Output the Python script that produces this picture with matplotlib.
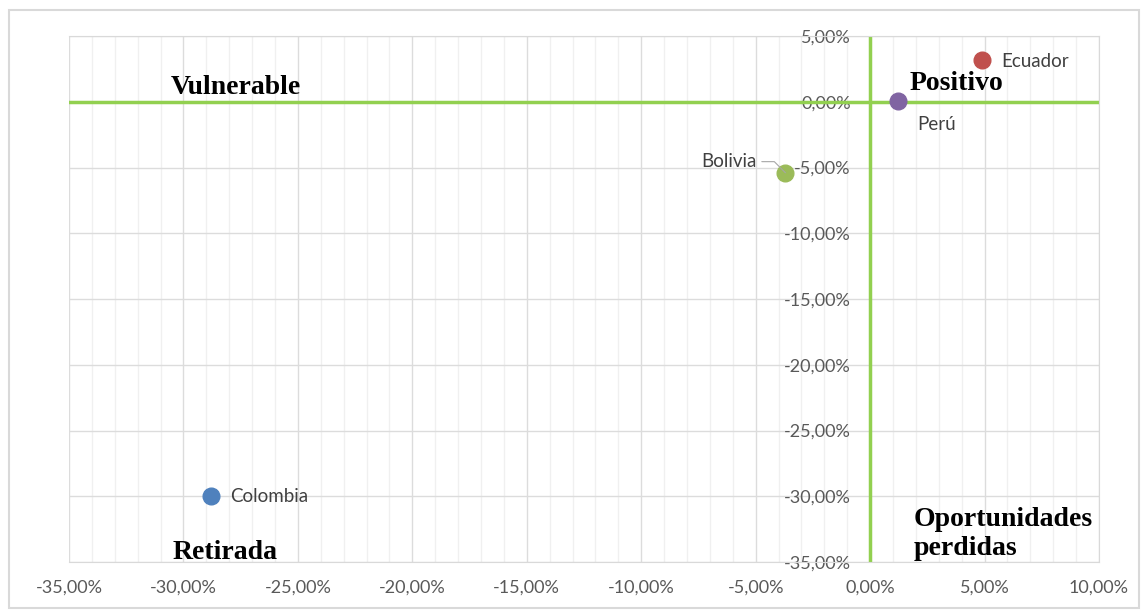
import matplotlib.pyplot as plt
from matplotlib.ticker import MultipleLocator, FuncFormatter
from matplotlib.patches import Rectangle

# Data (percent values)
countries = ['Colombia', 'Ecuador', 'Bolivia', 'Perú']
x_vals = [-28.8, 4.9, -3.7, 1.2]
y_vals = [-30.0, 3.2, -5.4, 0.05]
colors = ['#4F81BD', '#C0504D', '#9BBB59', '#8064A2']

quadrant_labels = ['Vulnerable', 'Positivo', 'Retirada', 'Oportunidades\nperdidas']

fig = plt.figure(figsize=(11.42, 6.10), dpi=100)
ax = fig.add_axes([69 / 1142, 1 - 562 / 610, 1030 / 1142, 526 / 610])

# outer chart border
fig.patches.append(Rectangle((9 / 1142, 2 / 610), 1130 / 1142, 598 / 610,
                             transform=fig.transFigure, fill=False,
                             edgecolor='#D9D9D9', linewidth=1.5))

ax.set_xlim(-35, 10)
ax.set_ylim(-35, 5)

pct = FuncFormatter(lambda v, p: f'{v:.2f}%'.replace('.', ','))
ax.xaxis.set_major_locator(MultipleLocator(5))
ax.xaxis.set_minor_locator(MultipleLocator(1))
ax.yaxis.set_major_locator(MultipleLocator(5))
ax.xaxis.set_major_formatter(pct)
ax.yaxis.set_major_formatter(pct)

ax.grid(True, which='major', color='#DCDCDC', linewidth=1)
ax.grid(True, which='minor', axis='x', color='#F0F0F0', linewidth=1)
ax.set_axisbelow(True)

for s in ax.spines.values():
    s.set_color('#D9D9D9')
ax.spines['left'].set_position(('data', 0))
ax.spines['left'].set_visible(False)

ax.tick_params(axis='both', which='both', length=0, labelcolor='#595959', labelsize=13)
ax.tick_params(axis='x', pad=13)
ax.tick_params(axis='y', pad=14)
for lab in ax.get_xticklabels() + ax.get_yticklabels():
    lab.set_fontfamily('Lato')

# quadrant lines
ax.axhline(0, color='#92D050', linewidth=2.5, zorder=2)
ax.axvline(0, color='#92D050', linewidth=2.5, zorder=2)

# points
for cx, cy, col in zip(x_vals, y_vals, colors):
    ax.plot(cx, cy, 'o', color=col, markersize=12, zorder=4)

lab_kw = dict(fontsize=13.5, color='#404040', family='Lato', zorder=5)
ax.annotate(countries[0], (x_vals[0], y_vals[0]), xytext=(14, 0), textcoords='offset points',
            va='center', ha='left', **lab_kw)
ax.annotate(countries[1], (x_vals[1], y_vals[1]), xytext=(14, -1), textcoords='offset points',
            va='center', ha='left', **lab_kw)
ax.annotate(countries[2], (x_vals[2], y_vals[2]), xytext=(-21, 8), textcoords='offset points',
            va='center', ha='right',
            arrowprops=dict(arrowstyle='-', color='#A6A6A6', lw=0.8, shrinkA=2, shrinkB=0,
                            connectionstyle='angle,angleA=0,angleB=135,rad=0'), **lab_kw)
ax.annotate(countries[3], (x_vals[3], y_vals[3]), xytext=(14, -17), textcoords='offset points',
            va='center', ha='left', **lab_kw)

q_kw = dict(fontsize=20, fontweight='bold', family='Liberation Serif', color='black', zorder=5)
ax.text(-27.7, 1.1, quadrant_labels[0], ha='center', va='center', **q_kw)
ax.text(3.75, 1.4, quadrant_labels[1], ha='center', va='center', **q_kw)
ax.text(-28.2, -34.3, quadrant_labels[2], ha='center', va='center', **q_kw)
ax.text(1.9, -32.9, quadrant_labels[3], ha='left', va='center', linespacing=1.2, **q_kw)

fig.savefig('out.png', dpi=100)
